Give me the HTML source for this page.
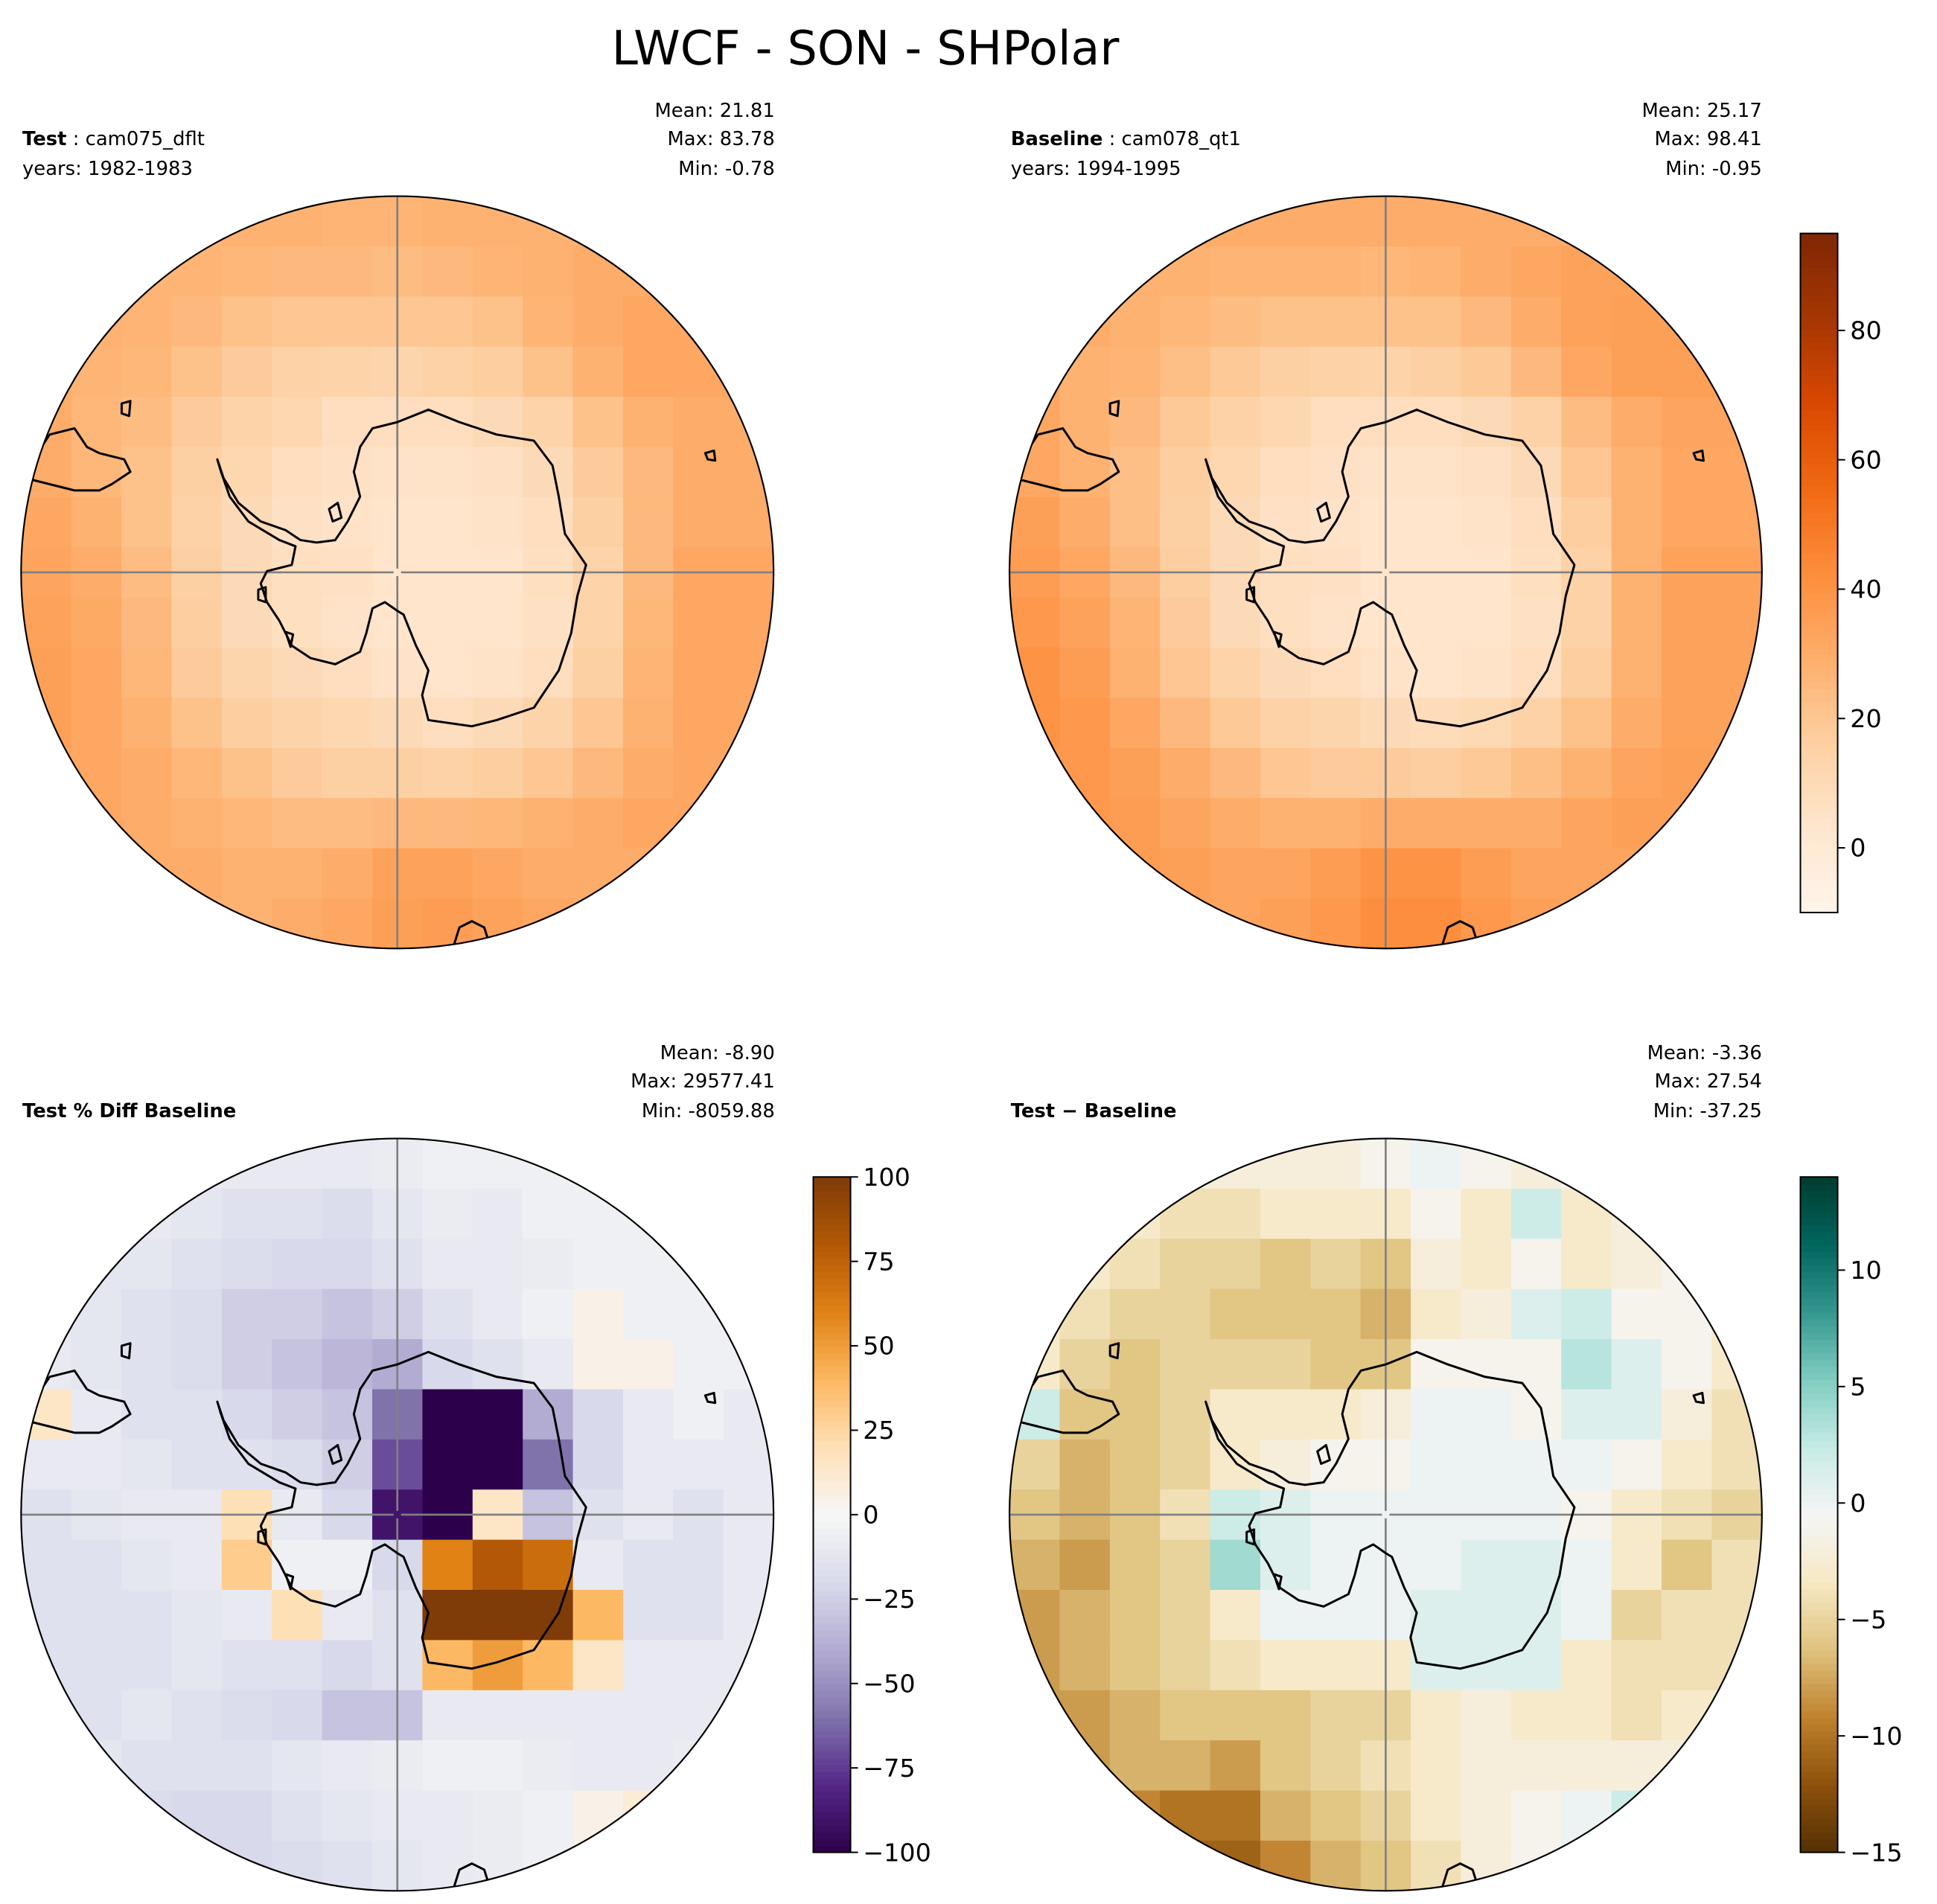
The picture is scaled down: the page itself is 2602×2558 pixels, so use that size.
<!DOCTYPE html>
<html><head><meta charset="utf-8">
<style>
html,body{margin:0;padding:0;background:#fff;}
svg{display:block;font-family:"DejaVu Sans","Liberation Sans",sans-serif;}
</style></head>
<body>
<svg id="fig" width="2602" height="2558" viewBox="0 0 1560 1533.6" xmlns="http://www.w3.org/2000/svg">
<text x="697" y="52" font-size="38" text-anchor="middle">LWCF - SON - SHPolar</text>

<text x="18" y="117" font-size="15.5"><tspan font-weight="bold">Test</tspan> : cam075_dflt</text>
<text x="18" y="141" font-size="15.5">years: 1982-1983</text>
<text font-size="15.5" text-anchor="end"><tspan x="624" y="94">Mean: 21.81</tspan><tspan x="624" y="117">Max: 83.78</tspan><tspan x="624" y="141">Min: -0.78</tspan></text>

<text x="814" y="117" font-size="15.5"><tspan font-weight="bold">Baseline</tspan> : cam078_qt1</text>
<text x="814" y="141" font-size="15.5">years: 1994-1995</text>
<text font-size="15.5" text-anchor="end"><tspan x="1419" y="94">Mean: 25.17</tspan><tspan x="1419" y="117">Max: 98.41</tspan><tspan x="1419" y="141">Min: -0.95</tspan></text>

<text x="18" y="900" font-size="15.5" font-weight="bold">Test % Diff Baseline</text>
<text font-size="15.5" text-anchor="end"><tspan x="624" y="853">Mean: -8.90</tspan><tspan x="624" y="876">Max: 29577.41</tspan><tspan x="624" y="900">Min: -8059.88</tspan></text>

<text x="814" y="900" font-size="15.5" font-weight="bold">Test − Baseline</text>
<text font-size="15.5" text-anchor="end"><tspan x="1419" y="853">Mean: -3.36</tspan><tspan x="1419" y="876">Max: 27.54</tspan><tspan x="1419" y="900">Min: -37.25</tspan></text>
</svg>
<script>
const testVals=[
[25,25,25,27,28,28,27,27,28,28,28,28,28,28,28],
[28,28,27,27,26,25,25,24,25,27,28,30,30,30,30],
[30,28,27,25,22,20,20,20,20,22,27,30,32,32,32],
[30,27,26,22,18,15,14,13,15,17,22,28,32,32,32],
[30,26,24,18,14,12,8,8,8,10,14,22,28,30,30],
[30,26,22,16,12,8,6,5,5,6,10,18,25,30,30],
[32,28,22,15,10,6,5,4,4,5,8,16,25,30,30],
[33,30,24,16,10,7,6,4,4,4,7,14,25,32,32],
[34,31,25,17,10,7,5,4,4,4,6,14,26,32,32],
[35,32,26,18,13,10,8,5,4,5,8,16,27,32,32],
[35,32,28,22,17,14,12,10,8,10,14,20,28,32,32],
[33,32,30,26,22,18,16,16,15,17,20,25,30,32,32],
[32,32,30,28,26,24,24,25,25,26,28,30,32,32,32],
[30,30,30,30,28,28,30,34,34,32,30,30,30,30,30],
[28,28,28,28,28,30,32,35,36,34,32,30,30,30,30]];
const baseVals=[
[28,28,28,30,30,30,30,30,30,30,30,30,30,30,30],
[30,30,28,28,27,27,27,26,27,30,32,34,34,33,33],
[32,30,28,26,24,22,22,22,22,25,30,34,35,35,35],
[32,28,27,23,19,16,15,14,16,19,25,32,35,35,35],
[32,28,25,19,15,12,8,8,8,10,15,24,30,33,33],
[32,28,23,17,12,8,6,5,5,6,10,20,28,32,32],
[35,30,23,16,10,6,5,4,4,5,8,17,28,32,32],
[36,32,25,17,10,7,6,4,4,4,7,15,28,34,34],
[38,34,27,18,10,7,5,4,4,4,6,15,28,34,34],
[40,36,28,20,14,10,8,5,4,5,8,17,28,34,34],
[40,38,32,25,19,15,13,10,9,11,15,22,30,34,34],
[38,38,35,30,25,20,18,18,17,19,23,28,33,35,35],
[36,38,36,33,30,28,28,30,30,30,30,33,35,35,35],
[35,36,36,35,33,33,36,40,40,36,33,33,33,33,33],
[33,34,34,34,33,35,38,42,42,38,35,33,33,33,33]];
const pctVals=[
[-10,-10,-10,-10,-10,-10,-10,-8,-5,-5,-5,-5,-5,-5,-5],
[-10,-10,-10,-12,-15,-15,-18,-12,-8,-10,-5,-5,-5,-5,-5],
[-10,-12,-12,-15,-18,-20,-20,-15,-10,-10,-8,-5,-5,-5,-5],
[-10,-12,-15,-18,-25,-25,-30,-25,-15,-10,-5,5,-5,-5,-5],
[-10,-12,-15,-18,-25,-30,-35,-40,-20,-15,-10,5,5,-5,-5],
[15,-10,-15,-15,-20,-25,-30,-60,-100,-100,-40,-20,-10,-5,-10],
[-10,-10,-12,-15,-15,-18,-25,-70,-100,-100,-60,-20,-10,-10,-10],
[-15,-12,-10,-10,20,-10,-20,-90,-100,15,-30,-15,-10,-15,-10],
[-15,-15,-12,-10,30,-5,-5,-20,60,80,70,-10,-15,-15,-10],
[-15,-15,-15,-12,-10,20,-10,-15,100,100,100,40,-15,-15,-10],
[-15,-15,-15,-12,-15,-15,-20,-15,40,50,40,15,-10,-10,-10],
[-15,-15,-12,-15,-18,-20,-30,-30,-10,-10,-10,-10,-10,-10,-10],
[-12,-12,-15,-15,-15,-12,-10,-8,-5,-5,-8,-10,-10,-8,-8],
[-12,-15,-18,-20,-20,-15,-12,-10,-10,-8,-5,5,10,-5,-5],
[-12,-15,-18,-20,-20,-18,-15,-12,-10,-8,-5,5,10,-5,-5]];
const diffVals=[
[-2,-2,-2,-2,-2,-2,-2,-1,0,-1,-2,-1,-1,-1,-1],
[-2,-2,-3,-4,-4,-3,-3,-3,-1,-3,2,-3,-2,-1,-1],
[-2,-3,-4,-5,-5,-6,-5,-6,-2,-3,-1,-3,-2,-1,-1],
[-3,-4,-5,-5,-6,-6,-6,-7,-3,-2,1,2,-1,-1,-3],
[-3,-5,-6,-5,-5,-5,-6,-6,-1,-1,-1,3,1,-1,-3],
[2,-6,-6,-5,-3,-3,-3,-2,0,0,-1,1,1,-2,-4],
[-5,-7,-6,-5,-3,-2,-1,-1,0,0,0,0,-1,-3,-4],
[-6,-7,-6,-4,2,1,0,0,0,0,0,-1,-3,-4,-5],
[-7,-8,-6,-5,4,1,0,0,0,1,1,0,-3,-6,-4],
[-8,-7,-6,-5,-3,0,0,0,1,1,1,0,-5,-4,-4],
[-8,-7,-6,-5,-4,-3,-3,-3,1,1,1,-3,-4,-4,-4],
[-8,-8,-7,-6,-6,-6,-5,-5,-3,-2,-3,-3,-4,-3,-3],
[-8,-8,-7,-7,-8,-6,-5,-4,-3,-2,-2,-2,-2,-2,-2],
[-8,-9,-9,-10,-10,-7,-6,-5,-3,-2,-1,0,2,-1,-1],
[-8,-9,-10,-11,-11,-9,-7,-6,-4,-2,-1,0,1,-1,-1]];
const absTicks=[0,20,40,60,80];
const pctTicks=[100,75,50,25,0,-25,-50,-75,-100];
const diffTicks=[10,5,0,-5,-10,-15];

const NS="http://www.w3.org/2000/svg";
const svg=document.getElementById('fig');
function mk(tag,attrs,parent){const e=document.createElementNS(NS,tag);for(const k in attrs)e.setAttribute(k,attrs[k]);(parent||svg).appendChild(e);return e;}
const ORANGES=["#fff5eb","#fee6ce","#fdd0a2","#fdae6b","#fd8d3c","#f16913","#d94801","#a63603","#7f2704"];
const PUOR=["#2d004b","#542788","#8073ac","#b2abd2","#d8daeb","#f7f7f7","#fee0b6","#fdb863","#e08214","#b35806","#7f3b08"];
const BRBG=["#543005","#8c510a","#bf812d","#dfc27d","#f6e8c3","#f5f5f5","#c7eae5","#80cdc1","#35978f","#01665e","#003c30"];
function hex(h){return [1,3,5].map(i=>parseInt(h.substr(i,2),16));}
function cmap(stops,t){t=Math.max(0,Math.min(1,t));const n=stops.length-1;const i=Math.min(n-1,Math.floor(t*n));const f=t*n-i;const a=hex(stops[i]),b=hex(stops[i+1]);return "rgb("+a.map((v,k)=>Math.round(v+(b[k]-v)*f)).join(",")+")";}

const coast="M-20,-116 L0,-121 L25,-131 L50,-121 L80,-111 L110,-106 L125,-86 L130,-61 L135,-31 L152,-6 L145,19 L140,49 L130,79 L110,109 L80,119 L60,124 L25,119 L20,99 L25,79 L15,59 L5,34 L0,31 L-10,24 L-20,29 L-25,49 L-30,64 L-50,74 L-70,69 L-85,59 L-95,39 L-105,24 L-110,9 L-105,-1 L-85,-6 L-82,-21 L-95,-26 L-120,-41 L-135,-61 L-142,-81 L-145,-91 L-140,-76 L-128,-56 L-110,-41 L-90,-34 L-78,-26 L-65,-24 L-50,-26 L-40,-41 L-30,-61 L-35,-81 L-30,-101 Z "+
"M-300,-81 L-280,-111 L-260,-116 L-250,-101 L-240,-96 L-220,-91 L-215,-81 L-230,-71 L-240,-66 L-260,-66 L-280,-71 L-300,-76 Z "+
"M-222,-136 L-215,-138 L-216,-126 L-222,-128 Z M-55,-51 L-48,-56 L-45,-44 L-52,-41 Z M248,-96 L255,-98 L256,-90 L250,-91 Z "+
"M-112,14 L-106,12 L-106,24 L-112,22 Z M-90,48 L-84,50 L-86,60 Z M50,286 L60,281 L70,286 L75,302 L45,302 Z";

function panel(name,cx,cy,r,vals,stops,vmin,vmax){
  const g=mk('g',{});
  
  
  const cp=mk('clipPath',{id:'clip-'+name},g);
  mk('circle',{cx:cx,cy:cy,r:r},cp);
  const cells=mk('g',{'clip-path':'url(#clip-'+name+')'},g);
  const n=vals.length, s=2*r/n;
  for(let i=0;i<n;i++)for(let j=0;j<vals[i].length;j++){
    const c=mk('rect',{x:cx-r+j*s,y:cy-r+i*s,width:s+0.6,height:s+0.6,fill:cmap(stops,(vals[i][j]-vmin)/(vmax-vmin))},cells);
    
    
  }
  mk('line',{x1:cx-r,y1:cy,x2:cx-3,y2:cy,stroke:'#808080','stroke-width':1.6},cells);
  mk('line',{x1:cx+3,y1:cy,x2:cx+r,y2:cy,stroke:'#808080','stroke-width':1.6},cells);
  mk('line',{x1:cx,y1:cy-r,x2:cx,y2:cy-3,stroke:'#808080','stroke-width':1.6},cells);
  mk('line',{x1:cx,y1:cy+3,x2:cx,y2:cy+r,stroke:'#808080','stroke-width':1.6},cells);
  const co=mk('path',{d:coast,transform:'translate('+cx+','+cy+')',fill:'none',stroke:'#000','stroke-width':1.8,'stroke-linejoin':'round'},cells);
  
  
  mk('circle',{cx:cx,cy:cy,r:r,fill:'none',stroke:'#000','stroke-width':1.3},g);
}
function cbar(name,x,y0,y1,stops,vmin,vmax,ticks){
  const g=mk('g',{});
  
  
  const w=30,N=100,h=(y1-y0)/N;
  for(let k=0;k<N;k++){mk('rect',{x:x,y:y1-(k+1)*h,width:w,height:h+0.5,fill:cmap(stops,(k+0.5)/N)},g);}
  mk('rect',{x:x,y:y0,width:w,height:y1-y0,fill:'none',stroke:'#000','stroke-width':1.2},g);
  ticks.forEach(t=>{
    const yy=y1-(t-vmin)/(vmax-vmin)*(y1-y0);
    mk('line',{x1:x+w,y1:yy,x2:x+w+6,y2:yy,stroke:'#000','stroke-width':1.2},g);
    const tx=mk('text',{x:x+w+10,y:yy+7,'font-size':20},g);
    tx.textContent=(t<0?'−'+(-t):String(t));
    
    
  });
}
panel('test',320,461,303,testVals,ORANGES,-10,95);
panel('baseline',1116,461,303,baseVals,ORANGES,-10,95);
panel('pctdiff',320,1220,303,pctVals,PUOR,-100,100);
panel('diff',1116,1220,303,diffVals,BRBG,-15,14);
cbar('abs-colorbar',1450,188,735,ORANGES,-10,95,absTicks);
cbar('pctdiff-colorbar',655,948,1492,PUOR,-100,100,pctTicks);
cbar('diff-colorbar',1450,948,1492,BRBG,-15,14,diffTicks);
</script>
</body></html>
